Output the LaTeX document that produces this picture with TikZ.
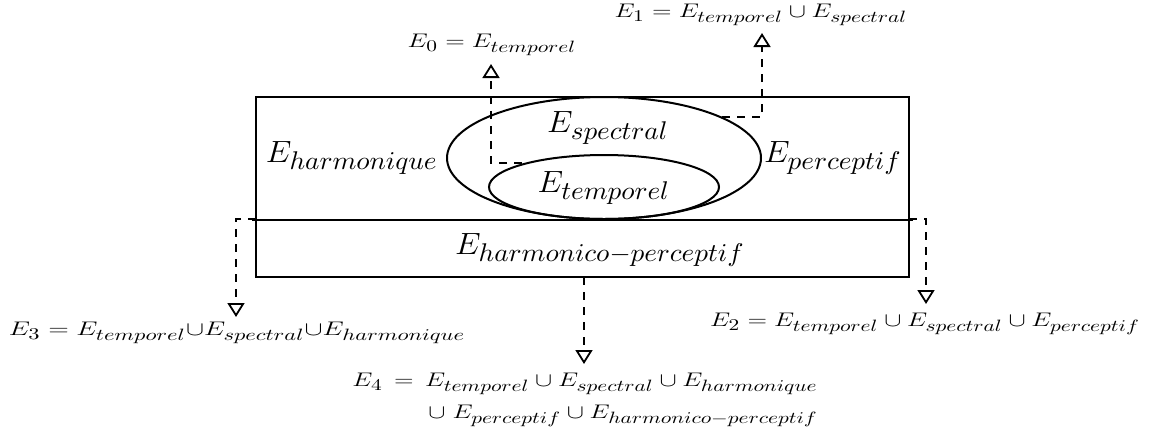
\documentclass[tikz,border=0pt]{standalone}
\usepackage{graphicx}
\usetikzlibrary{arrows.meta,shapes.geometric}
\DeclareMathSizes{12}{12}{10}{7}
\newcommand{\bigtxt}[1]{\scalebox{1.36}[1.28]{\fontsize{12}{14}\selectfont$#1$}}
\newcommand{\smtxt}[1]{\scalebox{1.07}[0.82]{\fontsize{12}{14}\selectfont$#1$}}
\newcommand{\smtxtw}[1]{\scalebox{1.125}[0.82]{\fontsize{12}{14}\selectfont$#1$}}
\begin{document}
\begin{tikzpicture}[x=0.5pt,y=-0.5pt,
  big/.style={inner sep=0pt},
  lbl/.style={inner sep=0pt},
  frame/.style={draw, line width=1pt},
  oval/.style={draw, ellipse, line width=1pt, inner sep=0pt},
  link/.style={draw, dash pattern=on 4pt off 3.5pt, line width=0.9pt,
    -{Triangle[open, length=7pt, width=8.5pt, line width=0.9pt]}}]
\useasboundingbox (0,0) rectangle (1150,440);
% frame
\draw[frame] (256,97) rectangle (909,277);
\draw[frame] (252,220) -- (913,220);
% ellipses
\node[oval, minimum width=157pt, minimum height=61pt] (spec) at (604,158) {};
\node[oval, minimum width=115pt, minimum height=32pt] (temp) at (604,187) {};
% labels inside
\node[big] (tspec) at (608,128) {\bigtxt{E_{spectral}}};
\node[big] (ttemp) at (604,188) {\bigtxt{E_{temporel}}};
\node[big] (tharm) at (352,158) {\bigtxt{E_{harmonique}}};
\node[big] (tperc) at (833,158) {\bigtxt{E_{perceptif}}};
\node[big] (thp) at (600,250) {\bigtxt{E_{harmonico-perceptif}}};
% outer labels
\node[lbl] (l0) at (492,45) {\smtxt{E_0 = E_{temporel}}};
\node[lbl] (l1) at (761,15) {\smtxt{E_1 = E_{temporel} \cup E_{spectral}}};
\node[lbl] (l3) at (237,333) {\smtxtw{E_3 = E_{temporel}{\cup}E_{spectral}{\cup}E_{harmonique}}};
\node[lbl] (l2) at (925,324) {\smtxt{E_2 = E_{temporel} \cup E_{spectral} \cup E_{perceptif}}};
\node[lbl, anchor=west] (l4a) at (352,384) {\smtxt{E_4 \,=\, E_{temporel} \cup E_{spectral} \cup E_{harmonique}}};
\node[lbl, anchor=west] (l4b) at (428,416) {\smtxt{\cup\; E_{perceptif} \cup E_{harmonico-perceptif}}};
% connectors
\coordinate (s0) at (522,163);
\coordinate (a0) at (491,64);
\coordinate (s1) at (722,117);
\coordinate (a1) at (762,33);
\coordinate (s3) at (256,219);
\coordinate (a3) at (236,317);
\coordinate (s2) at (909,219);
\coordinate (a2) at (926,304);
\coordinate (s4) at (584,277);
\coordinate (a4) at (584,364);
\draw[link] (s0) -| (a0);
\draw[link] (s1) -| (a1);
\draw[link] (s3) -| (a3);
\draw[link] (s2) -| (a2);
\draw[link] (s4) -- (a4);
\end{tikzpicture}
\end{document}
